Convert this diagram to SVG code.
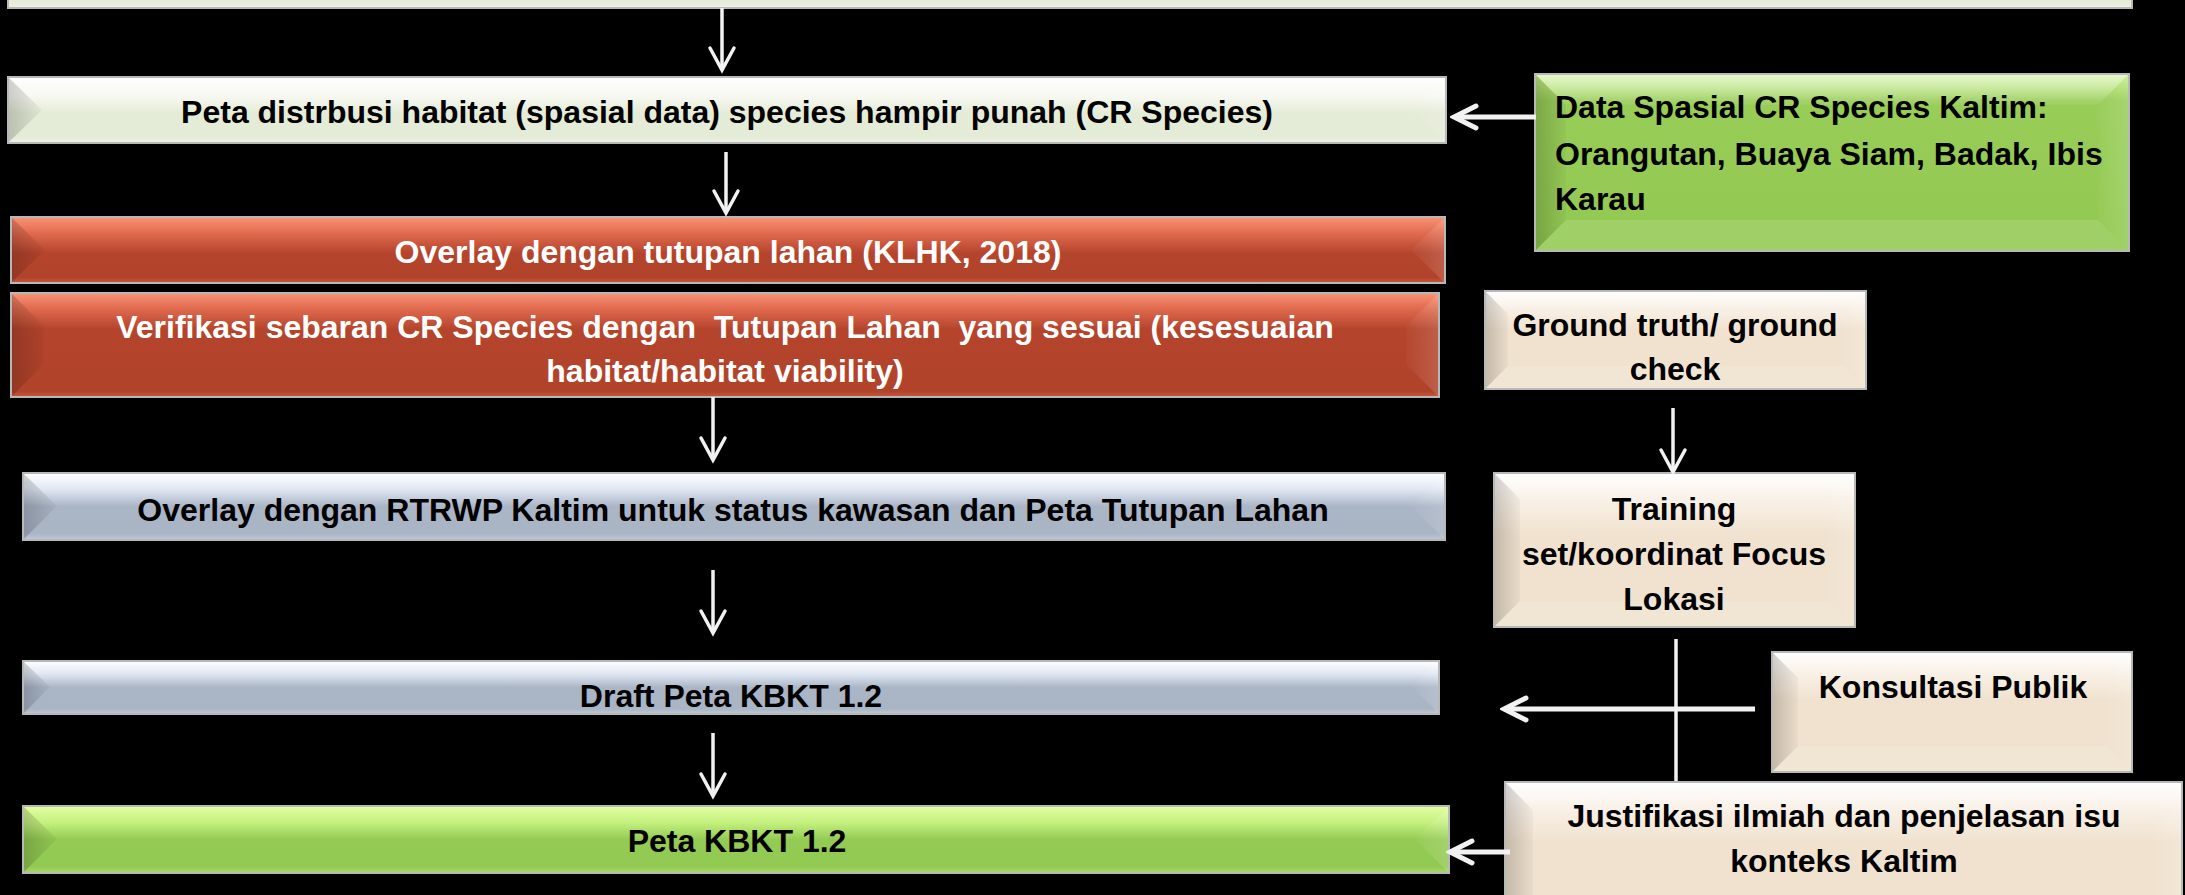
<svg xmlns="http://www.w3.org/2000/svg" width="2185" height="895" viewBox="0 0 2185 895">
<style>
.bg{fill:#000}
.box{stroke:#b8b8b8;stroke-width:2}
.t{font-family:"Liberation Sans",Arial,sans-serif;font-weight:bold;font-size:32px;fill:#000}
.tw{fill:#fff}
.mid{text-anchor:middle}
.bl{fill:url(#bevL)}
.br{fill:url(#bevR)}
.bt{fill:url(#bevT)}
.bb{fill:#fff;fill-opacity:0.12}
.cv{fill:none;stroke:#f2f2f2;stroke-width:3.5}
.ch{fill:none;stroke:#f2f2f2;stroke-width:5}
</style>
<defs>
<linearGradient id="gPale" x1="0" y1="0" x2="0" y2="1">
<stop offset="0" stop-color="#ffffff"/><stop offset="0.3" stop-color="#f6f8f0"/><stop offset="0.55" stop-color="#e4ebd6"/><stop offset="0.9" stop-color="#e4ebd6"/><stop offset="1" stop-color="#eef2e6"/>
</linearGradient>
<linearGradient id="gRed" x1="0" y1="0" x2="0" y2="1">
<stop offset="0" stop-color="#fa9376"/><stop offset="0.25" stop-color="#e06a4e"/><stop offset="0.55" stop-color="#b4442c"/><stop offset="0.92" stop-color="#b2432b"/><stop offset="1" stop-color="#c85a40"/>
</linearGradient>
<linearGradient id="gRed2" x1="0" y1="0" x2="0" y2="1">
<stop offset="0" stop-color="#fa9376"/><stop offset="0.15" stop-color="#e06a4e"/><stop offset="0.35" stop-color="#b4442c"/><stop offset="0.95" stop-color="#b2432b"/><stop offset="1" stop-color="#c85a40"/>
</linearGradient>
<linearGradient id="gBlue" x1="0" y1="0" x2="0" y2="1">
<stop offset="0" stop-color="#ffffff"/><stop offset="0.25" stop-color="#dfe6f2"/><stop offset="0.5" stop-color="#aab5c6"/><stop offset="0.9" stop-color="#a9b4c4"/><stop offset="1" stop-color="#c0cad8"/>
</linearGradient>
<linearGradient id="gGreen" x1="0" y1="0" x2="0" y2="1">
<stop offset="0" stop-color="#e2ffa4"/><stop offset="0.25" stop-color="#c4f07e"/><stop offset="0.5" stop-color="#94cb54"/><stop offset="0.9" stop-color="#92c952"/><stop offset="1" stop-color="#a8d86a"/>
</linearGradient>
<linearGradient id="gGreenT" x1="0" y1="0" x2="0" y2="1">
<stop offset="0" stop-color="#c8f088"/><stop offset="0.15" stop-color="#98cd58"/><stop offset="1" stop-color="#92c952"/>
</linearGradient>
<linearGradient id="gBeige" x1="0" y1="0" x2="0" y2="1">
<stop offset="0" stop-color="#ffffff"/><stop offset="0.2" stop-color="#f8efe4"/><stop offset="0.4" stop-color="#f0e2cf"/><stop offset="1" stop-color="#f0e2cf"/>
</linearGradient>
<linearGradient id="bevL" x1="0" y1="0" x2="1" y2="0">
<stop offset="0" stop-color="#000" stop-opacity="0.18"/><stop offset="1" stop-color="#000" stop-opacity="0.03"/>
</linearGradient>
<linearGradient id="bevR" x1="0" y1="0" x2="1" y2="0">
<stop offset="0" stop-color="#fff" stop-opacity="0.02"/><stop offset="1" stop-color="#fff" stop-opacity="0.14"/>
</linearGradient>
<linearGradient id="bevT" x1="0" y1="0" x2="0" y2="1">
<stop offset="0" stop-color="#fff" stop-opacity="0.55"/><stop offset="1" stop-color="#fff" stop-opacity="0.05"/>
</linearGradient>
<marker id="aV" markerUnits="userSpaceOnUse" viewBox="-28 -16 32 32" refX="0" refY="0" markerWidth="32" markerHeight="32" orient="auto">
<path d="M-22,-12 L0,0 L-22,12" fill="none" stroke="#f2f2f2" stroke-width="3.5" stroke-linecap="round"/>
</marker>
<marker id="aH" markerUnits="userSpaceOnUse" viewBox="-28 -16 32 32" refX="0" refY="0" markerWidth="32" markerHeight="32" orient="auto">
<path d="M-22,-11 L0,0 L-22,11" fill="none" stroke="#f2f2f2" stroke-width="5" stroke-linecap="round"/>
</marker>
</defs>
<rect class="bg" x="0" y="0" width="2185" height="895"/>

<g id="n-top">
<rect class="box" x="8" y="-60" width="2124" height="68" fill="url(#gPale)"/>
</g>

<g id="n-peta-distribusi">
<rect class="box" x="8" y="77" width="1438" height="66" fill="url(#gPale)"/>
<polygon class="bl" points="9,78 42,110 9,142"/>
<polygon class="br" points="1445,78 1412,110 1445,142"/>
<text class="t mid" x="727" y="123">Peta distrbusi habitat (spasial data) species hampir punah (CR Species)</text>
</g>

<g id="n-overlay-tutupan">
<rect class="box" x="11" y="217" width="1434" height="66" fill="url(#gRed)"/>
<polygon class="bl" points="12,218 45,250 12,282"/>
<polygon class="br" points="1444,218 1411,250 1444,282"/>
<text class="t tw mid" x="728" y="263">Overlay dengan tutupan lahan (KLHK, 2018)</text>
</g>

<g id="n-verifikasi">
<rect class="box" x="11" y="293" width="1428" height="104" fill="url(#gRed2)"/>
<polygon class="bl" points="12,294 44,326 44,364 12,396"/>
<polygon class="br" points="1438,294 1406,326 1406,364 1438,396"/>
<text class="t tw mid" x="725" y="338" xml:space="preserve">Verifikasi sebaran CR Species dengan  Tutupan Lahan  yang sesuai (kesesuaian</text>
<text class="t tw mid" x="725" y="382">habitat/habitat viability)</text>
</g>

<g id="n-overlay-rtrwp">
<rect class="box" x="23" y="473" width="1422" height="67" fill="url(#gBlue)"/>
<polygon class="bl" points="24,474 57,506 24,539"/>
<polygon class="br" points="1444,474 1411,506 1444,539"/>
<text class="t mid" x="733" y="521">Overlay dengan RTRWP Kaltim untuk status kawasan dan Peta Tutupan Lahan</text>
</g>

<g id="n-draft">
<rect class="box" x="23" y="661" width="1416" height="53" fill="url(#gBlue)"/>
<polygon class="bl" points="24,662 50,687 24,713"/>
<polygon class="br" points="1438,662 1412,687 1438,713"/>
<text class="t mid" x="731" y="707">Draft Peta KBKT 1.2</text>
</g>

<g id="n-peta-kbkt">
<rect class="box" x="23" y="806" width="1426" height="67" fill="url(#gGreen)"/>
<polygon class="bl" points="24,807 57,839 24,872"/>
<polygon class="br" points="1448,807 1415,839 1448,872"/>
<text class="t mid" x="737" y="852">Peta KBKT 1.2</text>
</g>

<g id="n-data-spasial">
<rect class="box" x="1535" y="74" width="594" height="177" fill="url(#gGreenT)"/>
<polygon class="bt" points="1536,75 2128,75 2098,105 1566,105"/>
<polygon class="bl" points="1536,75 1566,105 1566,220 1536,250"/>
<polygon class="br" points="2128,75 2098,105 2098,220 2128,250"/>
<polygon class="bb" points="1536,250 1566,220 2098,220 2128,250"/>
<text class="t" x="1555" y="118">Data Spasial CR Species Kaltim:</text>
<text class="t" x="1555" y="165">Orangutan, Buaya Siam, Badak, Ibis</text>
<text class="t" x="1555" y="210">Karau</text>
</g>

<g id="n-ground-truth">
<rect class="box" x="1485" y="291" width="381" height="98" fill="url(#gBeige)"/>
<polygon class="bl" points="1486,292 1508,314 1508,366 1486,388"/>
<polygon class="br" points="1865,292 1843,314 1843,366 1865,388"/>
<polygon class="bb" points="1486,388 1508,366 1843,366 1865,388"/>
<text class="t mid" x="1675" y="336">Ground truth/ ground</text>
<text class="t mid" x="1675" y="380">check</text>
</g>

<g id="n-training">
<rect class="box" x="1494" y="473" width="361" height="154" fill="url(#gBeige)"/>
<polygon class="bl" points="1495,474 1520,499 1520,601 1495,626"/>
<polygon class="br" points="1854,474 1829,499 1829,601 1854,626"/>
<polygon class="bb" points="1495,626 1520,601 1829,601 1854,626"/>
<text class="t mid" x="1674" y="520">Training</text>
<text class="t mid" x="1674" y="565">set/koordinat Focus</text>
<text class="t mid" x="1674" y="610">Lokasi</text>
</g>

<g id="n-konsultasi">
<rect class="box" x="1772" y="652" width="360" height="120" fill="url(#gBeige)"/>
<polygon class="bl" points="1773,653 1798,678 1798,746 1773,771"/>
<polygon class="br" points="2131,653 2106,678 2106,746 2131,771"/>
<polygon class="bb" points="1773,771 1798,746 2106,746 2131,771"/>
<text class="t mid" x="1953" y="698">Konsultasi Publik</text>
</g>

<g id="n-justifikasi">
<rect class="box" x="1505" y="782" width="677" height="150" fill="url(#gBeige)"/>
<polygon class="bl" points="1506,783 1533,810 1533,905 1506,931"/>
<polygon class="br" points="2181,783 2154,810 2154,905 2181,931"/>
<text class="t mid" x="1844" y="827">Justifikasi ilmiah dan penjelasan isu</text>
<text class="t mid" x="1844" y="872">konteks Kaltim</text>
</g>

<g id="connectors">
<line class="cv" x1="722" y1="8" x2="722" y2="70" marker-end="url(#aV)"/>
<line class="cv" x1="726" y1="152" x2="726" y2="213" marker-end="url(#aV)"/>
<line class="cv" x1="713" y1="397" x2="713" y2="460" marker-end="url(#aV)"/>
<line class="cv" x1="713" y1="570" x2="713" y2="633" marker-end="url(#aV)"/>
<line class="cv" x1="713" y1="733" x2="713" y2="796" marker-end="url(#aV)"/>
<line class="cv" x1="1673" y1="408" x2="1673" y2="472" marker-end="url(#aV)"/>
<line class="ch" x1="1536" y1="117" x2="1454" y2="117" marker-end="url(#aH)"/>
<line class="cv" x1="1676" y1="639" x2="1676" y2="781"/>
<line class="ch" x1="1755" y1="709" x2="1504" y2="709" marker-end="url(#aH)"/>
<line class="ch" x1="1510" y1="852" x2="1450" y2="852" marker-end="url(#aH)"/>
</g>
</svg>
